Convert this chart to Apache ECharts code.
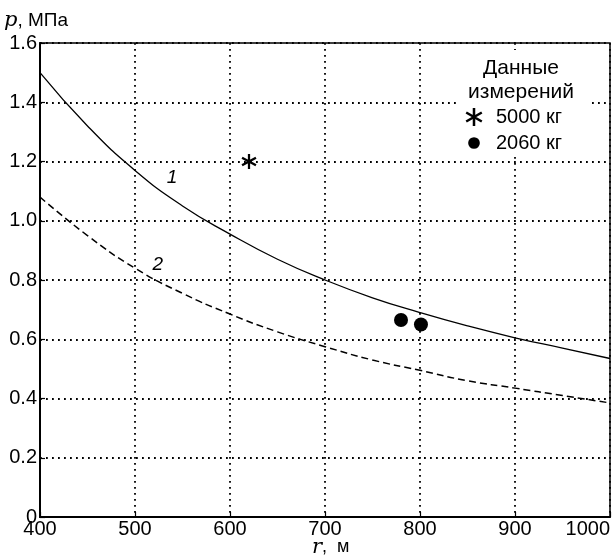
<!DOCTYPE html>
<html>
<head>
<meta charset="utf-8">
<script src="https://cdn.jsdelivr.net/npm/echarts@6/dist/echarts.min.js"></script>
<style>html,body{margin:0;padding:0;background:#fff;}#c{width:613px;height:559px;}</style>
</head>
<body>
<div id="c"></div>
<script>
// Data
var rValues = [400, 450, 500, 550, 600, 650, 700, 750, 800, 850, 900, 950, 1000];
var curve1 = [1.50, 1.32, 1.17, 1.05, 0.955, 0.87, 0.80, 0.74, 0.69, 0.645, 0.605, 0.57, 0.535];
var curve2 = [1.08, 0.95, 0.84, 0.755, 0.685, 0.625, 0.575, 0.53, 0.495, 0.46, 0.435, 0.41, 0.385];
var meas5000 = [[620, 1.20]];
var meas2060 = [[780, 0.665], [801, 0.65]];
var curveLabels = [[539, 1.144, '1'], [524, 0.85, '2']];
var legendNames = ['5000 кг', '2060 кг'];
var legendTitle = 'Данные\nизмерений';
var xTicks = [400, 1000, 100];
var yTicks = [0, 1.6, 0.2];

function pairs(xs, ys) { return xs.map(function (x, i) { return [x, ys[i]]; }); }

var asterisk = 'path://M-1.4,-10L1.4,-10L1.4,10L-1.4,10ZM7.96,-6.21L9.36,-3.79L-7.96,6.21L-9.36,3.79ZM9.36,3.79L7.96,6.21L-9.36,-3.79L-7.96,-6.21Z';
var smallDot = 'path://M-10,-10L-10,-10ZM10,10L10,10ZM0,-6.5A6.5,6.5,0,1,1,0,6.5A6.5,6.5,0,1,1,0,-6.5Z';
var FONT = 'Liberation Sans, Arial, sans-serif';
var SERIF = 'DejaVu Serif, Liberation Serif, serif';

var chart = echarts.init(document.getElementById('c'));
chart.setOption({
  animation: false,
  backgroundColor: '#fff',
  textStyle: { fontFamily: FONT },
  grid: { left: 40, right: 3, top: 43, bottom: 42, show: true, borderColor: '#000', borderWidth: 1.5, backgroundColor: 'transparent' },
  xAxis: {
    type: 'value', min: xTicks[0], max: xTicks[1], interval: xTicks[2],
    axisLine: { show: true, onZero: false, lineStyle: { color: '#000', width: 2 } },
    axisTick: { show: true, inside: true, length: 5, lineStyle: { color: '#000', width: 1.2 } },
    axisLabel: { color: '#000', fontSize: 20, fontFamily: FONT, margin: 2, alignMaxLabel: 'right',
      formatter: function (v) { return String(v); } },
    splitLine: { show: true, lineStyle: { color: '#000', width: 1.8, type: [1.8, 4.2] } }
  },
  yAxis: {
    type: 'value', min: yTicks[0], max: yTicks[1], interval: yTicks[2],
    axisLine: { show: true, onZero: false, lineStyle: { color: '#000', width: 2 } },
    axisTick: { show: true, inside: true, length: 5, lineStyle: { color: '#000', width: 1.2 } },
    axisLabel: { color: '#000', fontSize: 20, fontFamily: FONT, margin: 3,
      formatter: function (v) { return v === 0 ? '0' : v.toFixed(1); } },
    splitLine: { show: true, lineStyle: { color: '#000', width: 1.8, type: [1.8, 4.2] } }
  },
  legend: {
    data: [{ name: legendNames[0] }, { name: legendNames[1], icon: smallDot }],
    orient: 'vertical',
    left: 465, top: 107,
    itemWidth: 18, itemHeight: 18, itemGap: 6,
    textStyle: { color: '#000', fontSize: 20, fontFamily: FONT, padding: [0, 0, 0, 8] },
    backgroundColor: 'transparent',
    padding: 0,
    z: 6
  },
  graphic: [
    { type: 'rect', shape: { x: 456, y: 50, width: 134, height: 106 }, style: { fill: '#fff' }, z: 3 },
    { type: 'text', style: { text: legendTitle, x: 521, y: 56, textAlign: 'center', fill: '#000', font: '21px ' + FONT, lineHeight: 24 }, z: 7 },
    { type: 'text', style: { rich: { i: { fontFamily: SERIF, fontStyle: 'italic', fontSize: 21, fill: '#000' }, s: { fontFamily: FONT, fontSize: 19, fill: '#000' } }, text: '{i|p}{s|, МПа}', x: 4, y: 10 }, z: 7 },
    { type: 'text', style: { rich: { i: { fontFamily: SERIF, fontStyle: 'italic', fontSize: 21, fill: '#000' }, s: { fontFamily: FONT, fontSize: 18, fill: '#000' } }, text: '{i|r}{s|,  м}', x: 312, y: 537 }, z: 7 }
  ],
  series: [
    { name: 'curve1', type: 'line', data: pairs(rValues, curve1), smooth: true, showSymbol: false, symbol: 'none',
      lineStyle: { color: '#000', width: 1.3 }, z: 2 },
    { name: 'curve2', type: 'line', data: pairs(rValues, curve2), smooth: true, showSymbol: false, symbol: 'none',
      lineStyle: { color: '#000', width: 1.5, type: [7, 4] }, z: 2 },
    { name: legendNames[0], type: 'scatter', data: meas5000, symbol: asterisk, symbolSize: [15, 15],
      itemStyle: { color: '#000', opacity: 1 }, z: 5 },
    { name: legendNames[1], type: 'scatter', data: meas2060, symbol: 'circle', symbolSize: 14,
      itemStyle: { color: '#000', opacity: 1 }, z: 5 },
    { name: 'labels', type: 'scatter', data: curveLabels, symbolSize: 0, itemStyle: { opacity: 1 },
      label: { show: true, position: 'inside', formatter: function (p) { return p.data[2]; },
        color: '#000', fontSize: 19, fontStyle: 'italic', fontFamily: FONT }, z: 5 }
  ]
});
</script>
</body>
</html>
